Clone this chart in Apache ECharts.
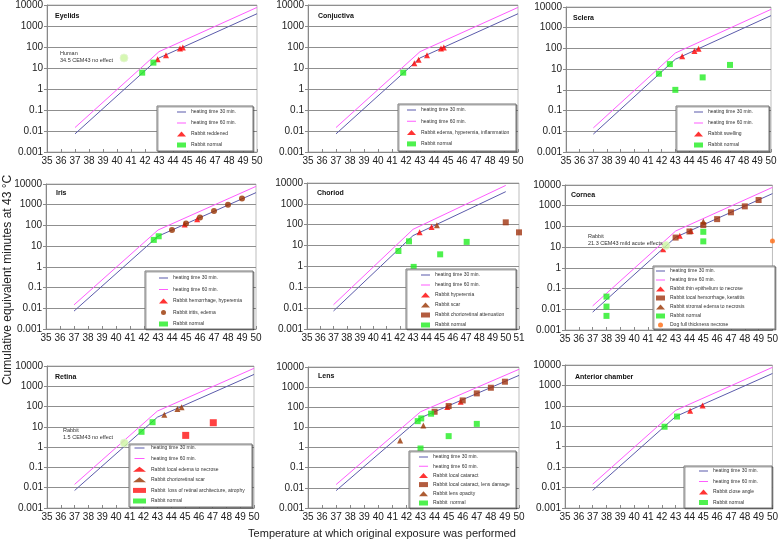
<!DOCTYPE html>
<html><head><meta charset="utf-8">
<script src="https://cdn.jsdelivr.net/npm/echarts@6/dist/echarts.min.js"></script>
<style>html,body{margin:0;padding:0;background:#fff}#c{width:781px;height:542px}</style>
</head><body><div id="c"></div>
<script>
// heating-time reference curves
const curveTemps = [37, 43, 50];
const cem30 = [0.0073, 30, 3840];
const cem60 = [0.0146, 60, 7680];

// Eyelids
const eyelidsRed = [[42.9,26],[43.5,40],[44.5,85],[44.7,95]];
const eyelidsNormal = [[41.8,6],[42.6,18]];
const eyelidsHuman = [[40.5,30]];
// Conjuctiva
const conjRed = [[42.6,17],[42.9,25],[43.5,40],[44.5,85],[44.7,95]];
const conjNormal = [[41.8,6]];
// Sclera
const scleraRed = [[43.5,42],[44.4,76],[44.7,96]];
const scleraNormal = [[41.8,6],[42.6,17.5],[43,1],[45,4],[47,16]];
// Iris
const irisRed = [[44.9,110],[45.8,200]];
const irisBrown = [[44,60],[45,125],[46,240],[47,500],[48,1000],[49,2000]];
const irisNormal = [[42.7,20],[43.05,30]];
// Choriod
const choriodRed = [[43.5,43],[44.4,78]];
const choriodScar = [[44.8,94]];
const choriodAtten = [[50,130],[51,43]];
const choriodNormal = [[41.9,5.5],[42.7,16],[43.05,0.95],[45.05,3.8],[47.05,15]];
// Cornea
const corneaThin = [[42.1,8],[43.3,35],[44.1,60]];
const corneaHem = [[43,29],[44,57],[45,116],[46,225],[47,480],[48,930],[49,1880]];
const corneaStromal = [[45,175]];
const corneaNormal = [[38,0.041],[38,0.0135],[38,0.0048],[45,55],[45,19]];
const corneaDog = [[50,20]];
const corneaRabbit = [[42.3,12]];
// Retina
const retinaEdema = [];
const retinaScar = [[43.5,39],[44.45,75],[44.75,93]];
const retinaLoss = [[45.05,3.8],[47.05,16]];
const retinaNormal = [[41.85,5.7],[42.65,17]];
const retinaRabbit = [[40.6,1.6]];
// Lens
const lensCataract = [[44.9,102],[45.85,190]];
const lensDamage = [[44,60],[45,115],[46,219],[47,490],[48,935],[49,1860]];
const lensOpacity = [[41.55,2.25],[43.2,12.6]];
const lensNormal = [[42.8,20.5],[43.05,28],[43.75,48],[43.0,0.9],[45.0,3.7],[47.0,15]];
// Anterior chamber
const antRed = [[44.05,57],[44.95,105]];
const antNormal = [[42.2,9.5],[43.1,30]];

const L30 = 'heating time 30 min.', L60 = 'heating time 60 min.';
const styles = {
  l30:{type:'line', color:'#5b5bab'},
  l60:{type:'line', color:'#ff5cff'},
  redTri:{symbol:'triangle', color:'#ff0000', size:6},
  green:{symbol:'rect', color:'#22ee22', size:6},
  brownCirc:{symbol:'circle', color:'#993300', size:6},
  brownSq:{symbol:'rect', color:'#a0330f', size:6},
  brownTri:{symbol:'triangle', color:'#993300', size:6},
  redSq:{symbol:'rect', color:'#ff1111', size:7},
  ref:{symbol:'circle', color:'#ccf5a0', size:8},
  dog:{symbol:'circle', color:'#ff6a10', size:5}
};
const curve30 = curveTemps.map((t,i)=>[t,cem30[i]]);
const curve60 = curveTemps.map((t,i)=>[t,cem60[i]]);
const LINE_ICON = 'path://M0,0h0.01v0.01h-0.01zM0,2h10v1h-10zM9.99,5h0.01v-0.01h-0.01z';

const panels = [
 {title:'Eyelids', tpos:[55,16], grid:{left:47,top:5,width:210,height:147}, xmax:50,
  s:[['Rabbit reddened',eyelidsRed,'redTri'],['Rabbit normal',eyelidsNormal,'green'],['_human',eyelidsHuman,'ref']],
  lg:{left:177,top:109,gap:5,iw:9}, box:[157,106,96,45]},
 {title:'Conjuctiva', tpos:[318,16], grid:{left:308,top:4,width:210,height:148}, xmax:50,
  s:[['Rabbit edema, hyperemia, inflammation',conjRed,'redTri'],['Rabbit normal',conjNormal,'green']],
  lg:{left:407,top:107,gap:5.3,iw:9}, box:[398,104,118,47]},
 {title:'Sclera', tpos:[573,18], grid:{left:566,top:7,width:205,height:145}, xmax:50,
  s:[['Rabbit swelling',scleraRed,'redTri'],['Rabbit normal',scleraNormal,'green']],
  lg:{left:694,top:109,gap:5,iw:9}, box:[676,106,93,45]},
 {title:'Iris', tpos:[56,193], grid:{left:46,top:184,width:210,height:145}, xmax:50,
  s:[['Rabbit hemorrhage, hyperemia',irisRed,'redTri'],['Rabbit iritis, edema',irisBrown,'brownCirc'],['Rabbit normal',irisNormal,'green']],
  lg:{left:159,top:275,gap:5.5,iw:9}, box:[145,271,108,58]},
 {title:'Choriod', tpos:[317,193], grid:{left:307,top:183,width:212,height:146}, xmax:51,
  s:[['Rabbit hyperemia',choriodRed,'redTri'],['Rabbit scar',choriodScar,'brownTri'],['Rabbit chorioretinal attenuation',choriodAtten,'brownSq'],['Rabbit normal',choriodNormal,'green']],
  lg:{left:421,top:272,gap:4,iw:9}, box:[406,269,110,60]},
 {title:'Cornea', tpos:[571,195], grid:{left:565,top:185,width:211,height:145}, xmax:50,
  s:[['Rabbit thin epithelium to necrose',corneaThin,'redTri'],['Rabbit local hemorrhage, keratitis',corneaHem,'brownSq'],['Rabbit stromal edema to necrosis',corneaStromal,'brownTri'],['Rabbit normal',corneaNormal,'green'],['Dog full thickness necrose',corneaDog,'dog'],['_rabbitC',corneaRabbit,'ref']],
  lg:{left:656,top:268,gap:3,iw:9}, box:[653,266,122,63]},
 {title:'Retina', tpos:[55,377], grid:{left:47,top:366,width:207,height:142}, xmax:50,
  s:[['Rabbit local edema to necrose',retinaEdema,'redTri'],['Rabbit chorioretinal scar',retinaScar,'brownTri'],['Rabbit  loss of retinal architecture, atrophy',retinaLoss,'redSq'],['Rabbit normal',retinaNormal,'green'],['_rabbitR',retinaRabbit,'ref']],
  lg:{left:133,top:445,gap:4.6,iw:13}, box:[129,444,123,63]},
 {title:'Lens', tpos:[318,376], grid:{left:308,top:367,width:211,height:141}, xmax:50,
  s:[['Rabbit local cataract',lensCataract,'redTri'],['Rabbit local cataract, lens damage',lensDamage,'brownSq'],['Rabbit lens opacity',lensOpacity,'brownTri'],['Rabbit  normal',lensNormal,'green']],
  lg:{left:419,top:454,gap:3.2,iw:9}, box:[409,451,107,57]},
 {title:'Anterior chamber', tpos:[575,377], grid:{left:565,top:365,width:212,height:143}, xmax:50,
  s:[['Rabbit close angle',antRed,'redTri'],['Rabbit normal',antNormal,'green']],
  lg:{left:699,top:468,gap:4.5,iw:9}, box:[684,466,88,42]}
];

const FONT = 'Liberation Sans, Arial, sans-serif';
const grids=[], xAxes=[], yAxes=[], series=[], legends=[], graphics=[];
const fmt = v => v >= 1 ? String(Math.round(v)) : String(+v.toPrecision(1));

panels.forEach((p, i) => {
  grids.push(Object.assign({show:true, borderColor:'#bdbdbd', borderWidth:1, backgroundColor:'#fff'}, p.grid));
  xAxes.push({type:'value', gridIndex:i, min:35, max:p.xmax, interval:1,
    axisLine:{lineStyle:{color:'#888'}}, axisTick:{inside:true,length:3,lineStyle:{color:'#888'}},
    splitLine:{show:false}, axisLabel:{fontSize:10, color:'#222', margin:4, fontFamily:FONT, hideOverlap:false}});
  yAxes.push({type:'log', logBase:10, gridIndex:i, min:0.001, max:10000,
    axisLine:{show:true, lineStyle:{color:'#888'}}, axisTick:{show:true, length:3, lineStyle:{color:'#888'}},
    splitLine:{show:true, lineStyle:{color:'#8f8f8f', width:1}}, minorTick:{show:false},
    axisLabel:{fontSize:10, color:'#222', margin:4, fontFamily:FONT, formatter:fmt}});
  series.push({name:L30, type:'line', xAxisIndex:i, yAxisIndex:i, data:curve30, symbol:'none', showSymbol:false,
    lineStyle:{color:styles.l30.color, width:1}, itemStyle:{color:styles.l30.color}, z:2});
  series.push({name:L60, type:'line', xAxisIndex:i, yAxisIndex:i, data:curve60, symbol:'none', showSymbol:false,
    lineStyle:{color:styles.l60.color, width:1}, itemStyle:{color:styles.l60.color}, z:2});
  const names = [{name:L30, icon:LINE_ICON}, {name:L60, icon:LINE_ICON}];
  p.s.forEach(([name, data, st]) => {
    const s = styles[st];
    series.push({name, type:'scatter', xAxisIndex:i, yAxisIndex:i, data, symbol:s.symbol, symbolSize:s.size,
      itemStyle: st==='ref' ? {color:s.color, borderColor:'#e6f5d6', borderWidth:1} : {color:s.color}, z:3, silent:true});
    if (!name.startsWith('_')) names.push({name});
  });
  legends.push({data:names, orient:'vertical', left:p.lg.left, top:p.lg.top, padding:0,
    itemWidth:p.lg.iw, itemHeight:5, itemGap:p.lg.gap, selectedMode:false, z:6,
    textStyle:{fontSize:5, color:'#333', fontFamily:FONT, lineHeight:6}});
  const b = p.box;
  graphics.push({type:'rect', z:5, shape:{x:b[0], y:b[1], width:b[2], height:b[3]},
    style:{fill:'#fff', stroke:'#777', lineWidth:1, shadowColor:'rgba(0,0,0,0.35)', shadowOffsetX:1, shadowOffsetY:1}});
  graphics.push({type:'text', z:6, x:p.tpos[0], y:p.tpos[1],
    style:{text:p.title, font:'bold 7px '+FONT, fill:'#111', textVerticalAlign:'middle'}});
});

const notes = [
  ['Human', 60, 53], ['34.5 CEM43 no effect', 60, 60],
  ['Rabbit', 588, 236], ['21.3 CEM43 mild acute effects', 588, 243],
  ['Rabbit', 63, 430], ['1.5 CEM43 no effect', 63, 437]
];
notes.forEach(([t,x,y]) => graphics.push({type:'text', z:6, x, y,
  style:{text:t, font:'5.5px '+FONT, fill:'#333', textVerticalAlign:'middle'}}));

graphics.push({type:'text', z:6, x:8, y:280, rotation:Math.PI/2,
  style:{text:'Cumulative equivalent minutes at 43 °C', font:'12px '+FONT, fill:'#222', textAlign:'center', textVerticalAlign:'middle'}});
graphics.push({type:'text', z:6, x:382, y:534,
  style:{text:'Temperature at which original exposure was performed', font:'11px '+FONT, fill:'#222', textAlign:'center', textVerticalAlign:'middle'}});

const chart = echarts.init(document.getElementById('c'), null, {renderer:'canvas'});
chart.setOption({animation:false, backgroundColor:'#fff', grid:grids, xAxis:xAxes, yAxis:yAxes,
  series, legend:legends, graphic:{elements:graphics}});
</script></body></html>
